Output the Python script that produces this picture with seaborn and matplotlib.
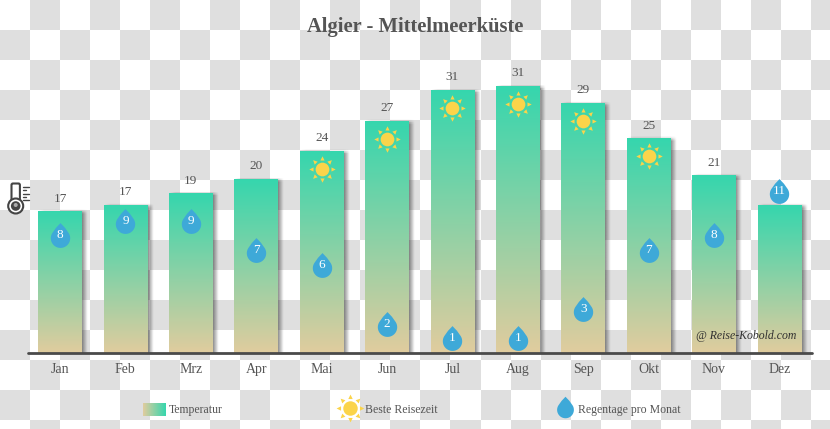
#import libraries
import numpy as np
import pandas as pd
import matplotlib.pyplot as plt
from matplotlib.path import Path
from matplotlib.patches import Circle, FancyBboxPatch
from matplotlib.transforms import Affine2D
import seaborn as sns

# data
months = ["Jan", "Feb", "Mrz", "Apr", "Mai", "Jun", "Jul", "Aug", "Sep", "Okt", "Nov", "Dez"]
temp = [16.4, 17.2, 18.5, 20.2, 23.4, 26.9, 30.5, 31.0, 29.0, 24.9, 20.6, 17.1]
temp_labels = [17, 17, 19, 20, 24, 27, 31, 31, 29, 25, 21, None]
rain = [8, 9, 9, 7, 6, 2, 1, 1, 3, 7, 8, 11]
sun_months = ["Mai", "Jun", "Jul", "Aug", "Sep", "Okt"]

W, H = 830, 429
PX_X, PX_Y = 65.4, 8.6
TEXT = "#555555"
GREEN = (0.21, 0.84, 0.68)
TAN = (0.88, 0.80, 0.62)
BLUE = "#3ea9d8"
YELLOW = "#fbd44a"
FONT = "Liberation Serif"

sns.set_theme(style="white")
plt.rcParams["font.family"] = FONT

# drop and sun shapes
t = np.linspace(-0.68 * np.pi, 0.68 * np.pi, 40)
drop_x = np.concatenate([np.sin(t) * 0.78, [0.36, 0.0, -0.36]])
drop_y = np.concatenate([-np.cos(t) * 0.78 - 0.22, [0.62, 1.0, 0.62]])
drop_pts = np.column_stack([drop_x, drop_y])
drop = Path(np.vstack([drop_pts, drop_pts[0]]), closed=True)

sun_verts, sun_codes = [], []
disc = Path.unit_circle().transformed(Affine2D().scale(0.52))
sun_verts += list(disc.vertices)
sun_codes += list(disc.codes)
for i in range(8):
    ray = Affine2D().rotate_deg(45 * i).transform([[0.68, -0.16], [1.0, 0], [0.68, 0.16], [0.68, -0.16]])
    sun_verts += list(ray)
    sun_codes += [Path.MOVETO, Path.LINETO, Path.LINETO, Path.CLOSEPOLY]
sun = Path(sun_verts, sun_codes)

fig = plt.figure(figsize=(W / 100, H / 100), dpi=100)

# checkerboard and everything placed in pixels
bg = fig.add_axes([0, 0, 1, 1], zorder=0)
rows, cols = np.indices((H // 30 + 1, W // 30 + 1))
board = (rows + cols) % 2
bg.imshow(board, cmap="gray_r", vmin=0, vmax=8, extent=[0, 30 * board.shape[1], 30 * board.shape[0], 0],
          interpolation="nearest", aspect="auto")
bg.set_xlim(0, W)
bg.set_ylim(H, 0)
bg.axis("off")

# main axes, full figure
ax = fig.add_axes([0, 0, 1, 1], zorder=1)
ax.patch.set_alpha(0)
df = pd.DataFrame({"month": months, "temp": temp, "rain": rain})
sns.barplot(data=df, x="month", y="temp", width=0.665, color=TAN, linewidth=0, ax=ax, zorder=1)
xlim = (-60 / PX_X, (W - 60) / PX_X)
ylim = (-(H - 353) / PX_Y, 353 / PX_Y)

# soft shadow and gradient on the bars
grad = np.linspace(0, 1, 128)[:, None, None] * np.array(GREEN) + np.linspace(1, 0, 128)[:, None, None] * np.array(TAN)
for bar, label in zip(list(ax.patches), temp_labels):
    x0, w, h = bar.get_x(), bar.get_width(), bar.get_height()
    sx = np.linspace(x0 - 4 / PX_X, x0 + w + 8 / PX_X, 70)
    sy = np.linspace(0, h + 5 / PX_Y, 120)
    fade_x = np.clip((sx - x0) * PX_X / 6, 0, 1) * np.clip((x0 + w + 6 / PX_X - sx) * PX_X / 6, 0, 1)
    fade_y = np.clip((h + 2 / PX_Y - sy) * PX_Y / 4, 0, 1)
    shadow = np.zeros((120, 70, 4))
    shadow[..., :3] = 0.2
    shadow[..., 3] = 0.6 * fade_y[:, None] * fade_x[None, :]
    ax.imshow(shadow, extent=[sx[0], sx[-1], 0, sy[-1]], origin="lower", aspect="auto", zorder=0.5)
    ax.imshow(grad, extent=[x0, x0 + w, 0, h], origin="lower", aspect="auto", zorder=1.5)
    if label is not None:
        ax.text(x0 + w / 2, h + 1.55, str(label), ha="center", va="center", fontsize=9.5, color=TEXT, zorder=4)
ax.set_xlim(xlim)
ax.set_ylim(ylim)
ax.axhline(0, xmin=28 / W, xmax=812 / W, color="#4a4a4a", lw=2.0, zorder=3)

# suns sit just under the bar top
sun_df = df[df["month"].isin(sun_months)]
sns.scatterplot(x=sun_df["month"], y=sun_df["temp"] - 2.0, marker=sun, s=360, color=YELLOW,
                linewidth=0, ax=ax, zorder=4)
ax.set_xlim(xlim)
ax.set_ylim(ylim)

# rain drops have their own scale
ax2 = fig.add_axes([0, 0, 1, 1], zorder=2)
ax2.patch.set_alpha(0)
sns.scatterplot(data=df, x="month", y="rain", marker=drop, s=320, color=BLUE, linewidth=0, ax=ax2)
ax2.set_xlim(xlim)
ax2.set_ylim(-(H - 353) / 14.7, 353 / 14.7)
for m, r in zip(months, rain):
    ax2.text(m, r, str(r), ha="center", va="center", fontsize=9.5, color="white", zorder=5)

for a in (ax, ax2):
    a.set_xlabel("")
    a.set_ylabel("")
    a.set_yticks([])
    a.set_xticks([])
    sns.despine(ax=a, left=True, bottom=True)

# top layer in pixels: month names, title, legend, icon
top = fig.add_axes([0, 0, 1, 1], zorder=3)
top.patch.set_alpha(0)
for i, m in enumerate(months):
    top.text(60 + i * PX_X, 373, m, ha="center", va="baseline", fontsize=10, color=TEXT)
top.text(415, 32, "Algier - Mittelmeerküste", ha="center", va="baseline", fontsize=14.8,
         fontweight="bold", color=TEXT)
top.text(796, 339, "@ Reise-Kobold.com", ha="right", va="baseline", fontsize=8.5, style="italic", color="#303030")

# legend
swatch = np.linspace(0, 1, 64)[None, :, None] * np.array(GREEN) + np.linspace(1, 0, 64)[None, :, None] * np.array(TAN)
top.imshow(swatch, extent=[143, 166, 416, 403], aspect="auto")
top.text(169, 413, "Temperatur", va="baseline", fontsize=8.5, color=TEXT)
top.scatter([350], [408], marker=sun, s=400, color=YELLOW, linewidth=0)
top.text(365, 413, "Beste Reisezeit", va="baseline", fontsize=8.5, color=TEXT)
top.scatter([565], [407], marker=drop, s=240, color=BLUE, linewidth=0)
top.text(578, 413, "Regentage pro Monat", va="baseline", fontsize=8.5, color=TEXT)

# thermometer icon
DARK = "#444444"
top.add_patch(FancyBboxPatch((13, 185), 5.4, 20, boxstyle="round,pad=1.5", fc="white", ec=DARK, lw=1.5))
top.add_patch(Circle((15.7, 206), 7.5, fc="white", ec=DARK, lw=1.5))
top.add_patch(Circle((15.7, 206), 4.8, fc=DARK, ec="none"))
top.add_patch(Circle((15.7, 205), 2, fc="#aaaaaa", ec="none"))
for y, x1 in zip([186.5, 190, 193.5, 197, 200], [29, 26, 29, 26, 29]):
    top.plot([23, x1], [y, y], color=DARK, lw=1)
top.set_xlim(0, W)
top.set_ylim(H, 0)
top.axis("off")

fig.savefig("out.png", dpi=100)
